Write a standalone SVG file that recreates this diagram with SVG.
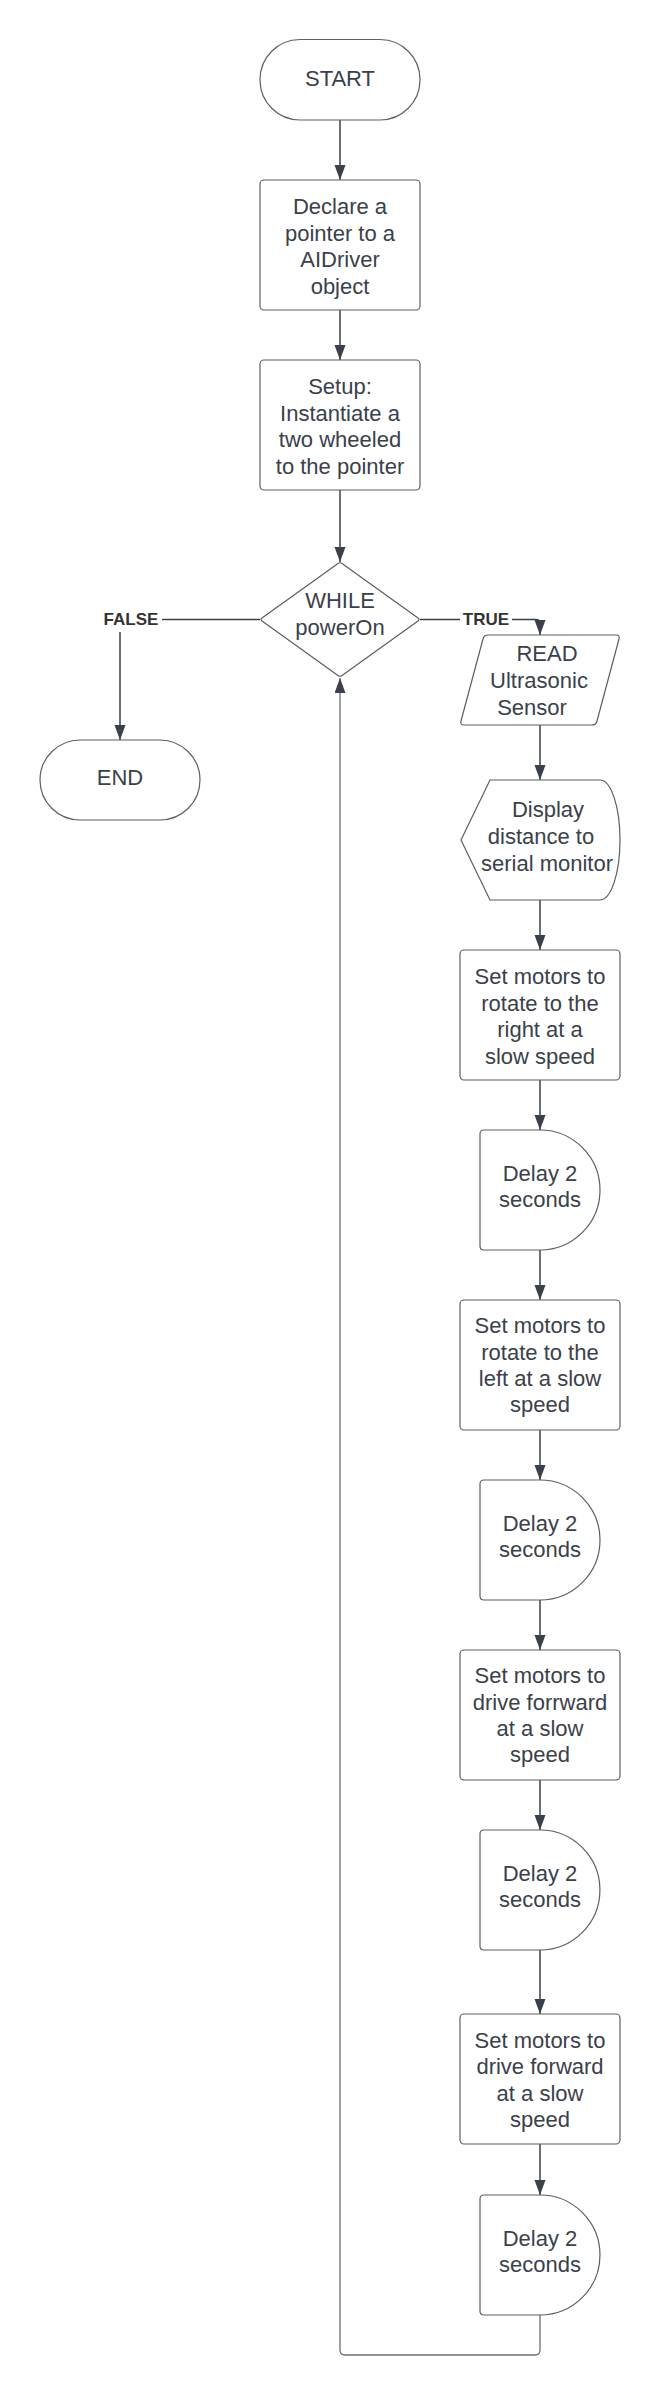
<svg xmlns="http://www.w3.org/2000/svg" width="660" height="2396" viewBox="0 0 660 2396">
<defs>
<style>
.s{fill:#ffffff;stroke:#5e5e5e;stroke-width:1.2}
.t{font-family:"Liberation Sans",Arial,sans-serif;font-size:22px;fill:#3a414a;text-anchor:middle}
.lb{font-family:"Liberation Sans",Arial,sans-serif;font-size:17px;font-weight:bold;fill:#333333;text-anchor:middle}
.c{fill:none;stroke:#3a414a;stroke-width:1.5}
.cl{fill:none;stroke:#6b7075;stroke-width:1.3}
</style>
<marker id="ah" markerUnits="userSpaceOnUse" markerWidth="16" markerHeight="12" refX="15" refY="5.5" orient="auto">
<path d="M0,0 L15,5.5 L0,11 Z" fill="#3a414a"/>
</marker>
</defs>
<rect width="660" height="2396" fill="#ffffff"/>
<g id="connectors">
<path class="c" d="M340,120 L340,180" marker-end="url(#ah)"/>
<path class="c" d="M340,310 L340,360" marker-end="url(#ah)"/>
<path class="c" d="M340,490 L340,562" marker-end="url(#ah)"/>
<path class="c" d="M260,619.5 L120,619.5 L120,740" marker-end="url(#ah)"/>
<path class="c" d="M420,619.5 L536,619.5 Q540,619.5 540,623.5 L540,635" marker-end="url(#ah)"/>
<path class="c" d="M540,725 L540,780" marker-end="url(#ah)"/>
<path class="c" d="M540,900 L540,950" marker-end="url(#ah)"/>
<path class="c" d="M540,1080 L540,1130" marker-end="url(#ah)"/>
<path class="c" d="M540,1250 L540,1300" stroke-width="1.2" marker-end="url(#ah)"/>
<path class="c" d="M540,1430 L540,1480" marker-end="url(#ah)"/>
<path class="c" d="M540,1600 L540,1650" marker-end="url(#ah)"/>
<path class="c" d="M540,1780 L540,1830" marker-end="url(#ah)"/>
<path class="c" d="M540,1950 L540,2014" marker-end="url(#ah)"/>
<path class="c" d="M540,2144 L540,2195" marker-end="url(#ah)"/>
<path class="cl" d="M540,2315 L540,2350 Q540,2355 535,2355 L345,2355 Q340,2355 340,2350 L340,678" marker-end="url(#ah)"/>
<rect x="100" y="606" width="62" height="26" fill="#ffffff"/>
<text class="lb" x="131" y="625">FALSE</text>
<rect x="460" y="606" width="52" height="26" fill="#ffffff"/>
<text class="lb" x="486" y="625">TRUE</text>
</g>
<g id="start">
<rect class="s" x="260" y="39.5" width="160" height="80.5" rx="40" ry="40"/>
<text class="t" x="340" y="85.5">START</text>
</g>
<g id="declare">
<rect class="s" x="260" y="180" width="160" height="130" rx="4"/>
<text class="t" x="340" y="214">Declare a</text>
<text class="t" x="340" y="240.7">pointer to a</text>
<text class="t" x="340" y="267.4">AIDriver</text>
<text class="t" x="340" y="294">object</text>
</g>
<g id="setup">
<rect class="s" x="260" y="360" width="160" height="130" rx="4"/>
<text class="t" x="340" y="394">Setup:</text>
<text class="t" x="340" y="420.7">Instantiate a</text>
<text class="t" x="340" y="447.4">two wheeled</text>
<text class="t" x="340" y="474">to the pointer</text>
</g>
<g id="while">
<path class="s" d="M338,563.5 Q340,562 342,563.5 L418,618 Q420,619.5 418,621 L342,675.5 Q340,677 338,675.5 L262,621 Q260,619.5 262,618 Z"/>
<text class="t" x="340" y="608">WHILE</text>
<text class="t" x="340" y="635">powerOn</text>
</g>
<g id="end">
<rect class="s" x="40" y="740" width="160" height="80" rx="40" ry="40"/>
<text class="t" x="120" y="785">END</text>
</g>
<g id="read">
<path class="s" d="M488,635 L616,635 Q620,635 619,639 L597,721 Q596,725 592,725 L464,725 Q460,725 461,721 L483,639 Q484,635 488,635 Z"/>
<text class="t" x="547" y="661">READ</text>
<text class="t" x="539" y="688">Ultrasonic</text>
<text class="t" x="532" y="715">Sensor</text>
</g>
<g id="display">
<path class="s" d="M490,780 L600,780 A20,60 0 0 1 600,900 L490,900 L461,840 Z"/>
<text class="t" x="548" y="817">Display</text>
<text class="t" x="541" y="844">distance to</text>
<text class="t" x="547" y="871">serial monitor</text>
</g>
<g id="rotate-right">
<rect class="s" x="460" y="950" width="160" height="130" rx="4"/>
<text class="t" x="540" y="984">Set motors to</text>
<text class="t" x="540" y="1010.7">rotate to the</text>
<text class="t" x="540" y="1037.4">right at a</text>
<text class="t" x="540" y="1064">slow speed</text>
</g>
<g id="delay1">
<path class="s" d="M484,1130 L540,1130 A60,60 0 0 1 540,1250 L484,1250 Q480,1250 480,1246 L480,1134 Q480,1130 484,1130 Z"/>
<text class="t" x="540" y="1181">Delay 2</text>
<text class="t" x="540" y="1207">seconds</text>
</g>
<g id="rotate-left">
<rect class="s" x="460" y="1300" width="160" height="130" rx="4"/>
<text class="t" x="540" y="1333">Set motors to</text>
<text class="t" x="540" y="1360">rotate to the</text>
<text class="t" x="540" y="1386">left at a slow</text>
<text class="t" x="540" y="1412">speed</text>
</g>
<g id="delay2">
<path class="s" d="M484,1480 L540,1480 A60,60 0 0 1 540,1600 L484,1600 Q480,1600 480,1596 L480,1484 Q480,1480 484,1480 Z"/>
<text class="t" x="540" y="1531">Delay 2</text>
<text class="t" x="540" y="1557">seconds</text>
</g>
<g id="drive-forrward">
<rect class="s" x="460" y="1650" width="160" height="130" rx="4"/>
<text class="t" x="540" y="1683">Set motors to</text>
<text class="t" x="540" y="1710">drive forrward</text>
<text class="t" x="540" y="1736">at a slow</text>
<text class="t" x="540" y="1762">speed</text>
</g>
<g id="delay3">
<path class="s" d="M484,1830 L540,1830 A60,60 0 0 1 540,1950 L484,1950 Q480,1950 480,1946 L480,1834 Q480,1830 484,1830 Z"/>
<text class="t" x="540" y="1881">Delay 2</text>
<text class="t" x="540" y="1907">seconds</text>
</g>
<g id="drive-forward">
<rect class="s" x="460" y="2014" width="160" height="130" rx="4"/>
<text class="t" x="540" y="2048">Set motors to</text>
<text class="t" x="540" y="2074">drive forward</text>
<text class="t" x="540" y="2101">at a slow</text>
<text class="t" x="540" y="2127">speed</text>
</g>
<g id="delay4">
<path class="s" d="M484,2195 L540,2195 A60,60 0 0 1 540,2315 L484,2315 Q480,2315 480,2311 L480,2199 Q480,2195 484,2195 Z"/>
<text class="t" x="540" y="2246">Delay 2</text>
<text class="t" x="540" y="2272">seconds</text>
</g>
</svg>
